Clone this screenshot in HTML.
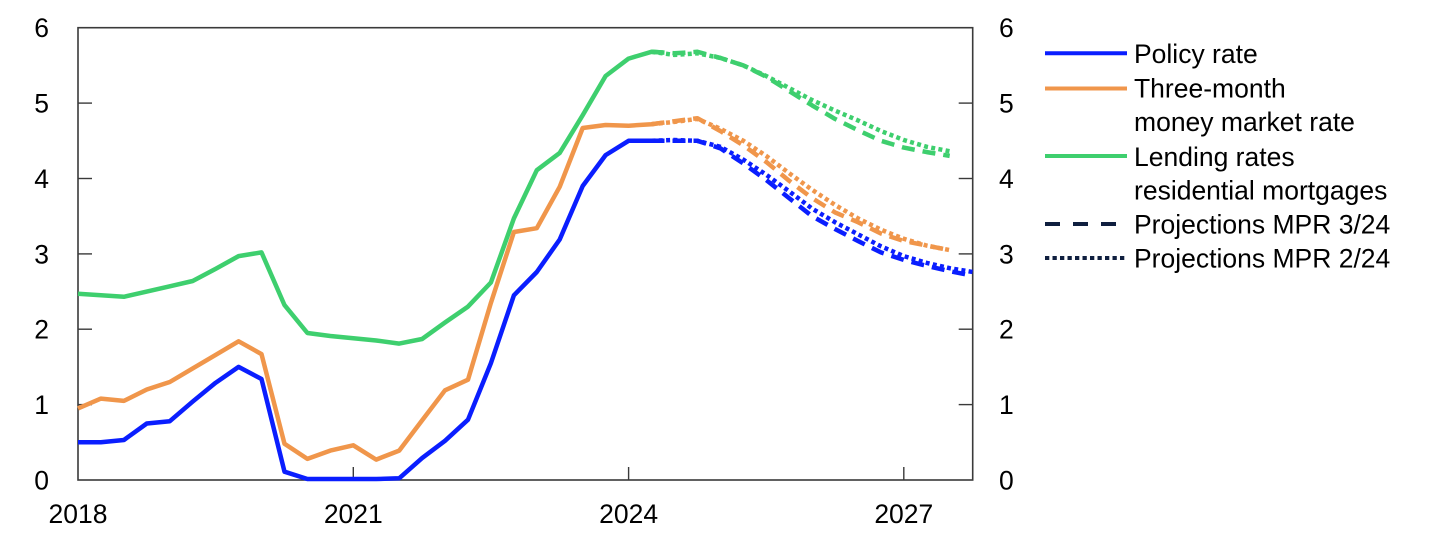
<!DOCTYPE html>
<html>
<head>
<meta charset="utf-8">
<style>
  html,body{margin:0;padding:0;background:#fff;}
  body{width:1445px;height:543px;overflow:hidden;}
  svg{display:block;font-family:"Liberation Sans",Arial,sans-serif;}
  text{font-size:26.5px;fill:#000;}
</style>
</head>
<body>
<svg width="1445" height="543" viewBox="0 0 1445 543" xmlns="http://www.w3.org/2000/svg">
  <!-- axis frame -->
  <rect x="78" y="27.7" width="894.7" height="452.3" fill="none" stroke="#3a3a3a" stroke-width="1.6"/>
  <!-- y ticks left/right -->
  <g stroke="#3a3a3a" stroke-width="1.4">
    <line x1="78" y1="103.1" x2="92" y2="103.1"/>
    <line x1="78" y1="178.5" x2="92" y2="178.5"/>
    <line x1="78" y1="253.9" x2="92" y2="253.9"/>
    <line x1="78" y1="329.2" x2="92" y2="329.2"/>
    <line x1="78" y1="404.6" x2="92" y2="404.6"/>
    <line x1="958.7" y1="103.1" x2="972.7" y2="103.1"/>
    <line x1="958.7" y1="178.5" x2="972.7" y2="178.5"/>
    <line x1="958.7" y1="253.9" x2="972.7" y2="253.9"/>
    <line x1="958.7" y1="329.2" x2="972.7" y2="329.2"/>
    <line x1="958.7" y1="404.6" x2="972.7" y2="404.6"/>
    <line x1="353.3" y1="480" x2="353.3" y2="467"/>
    <line x1="628.6" y1="480" x2="628.6" y2="467"/>
    <line x1="903.8" y1="480" x2="903.8" y2="467"/>
  </g>
  <!-- left labels -->
  <g text-anchor="end">
    <text x="49" y="37.2">6</text>
    <text x="49" y="112.6">5</text>
    <text x="49" y="188">4</text>
    <text x="49" y="263.4">3</text>
    <text x="49" y="338.7">2</text>
    <text x="49" y="414.1">1</text>
    <text x="49" y="489.5">0</text>
  </g>
  <!-- right labels -->
  <g text-anchor="start">
    <text x="999" y="37.2">6</text>
    <text x="999" y="112.6">5</text>
    <text x="999" y="188">4</text>
    <text x="999" y="263.4">3</text>
    <text x="999" y="338.7">2</text>
    <text x="999" y="414.1">1</text>
    <text x="999" y="489.5">0</text>
  </g>
  <!-- x labels -->
  <g text-anchor="middle">
    <text x="78" y="523">2018</text>
    <text x="353.3" y="523">2021</text>
    <text x="628.6" y="523">2024</text>
    <text x="903.8" y="523">2027</text>
  </g>

  <g fill="none" stroke-width="4.5" stroke-linejoin="round">
    <!-- Green history -->
    <polyline stroke="#3ecf6e" points="78,293.8 100.9,295.3 123.9,296.8 146.8,291.6 169.8,286.3 192.7,281 215.6,268.9 238.6,256.1 261.5,252.4 284.5,305.1 307.4,333 330.3,336 353.3,338.3 376.2,340.5 399.2,343.6 422.1,339 445,322.5 468,306.6 490.9,282.5 513.9,218.4 536.8,170.2 559.7,152.9 582.7,115.2 605.6,76 628.6,58.6 651.5,51.8 663,52.5"/>
    <!-- Orange history -->
    <polyline stroke="#f0964b" points="78,408.4 100.9,398.6 123.9,400.9 146.8,389.5 169.8,382 192.7,368.4 215.6,354.9 238.6,341.3 261.5,354.1 284.5,443.8 307.4,458.9 330.3,450.6 353.3,445.3 376.2,459.6 399.2,450.6 422.1,420.4 445,390.3 468,379.7 490.9,302.9 513.9,232 536.8,228.2 559.7,186.8 582.7,128 605.6,125 628.6,125.7 651.5,124.2 663,122.7"/>
    <!-- Blue history -->
    <polyline stroke="#0a1eff" points="78,442.3 100.9,442.3 123.9,440 146.8,423.5 169.8,421.2 192.7,401.6 215.6,382.8 238.6,366.9 261.5,379 284.5,471.7 307.4,479 330.3,479 353.3,479 376.2,479 399.2,478.3 422.1,458.1 445,440.8 468,419.7 490.9,363.2 513.9,295.3 536.8,272 559.7,239.5 582.7,186 605.6,155.1 628.6,140.8 651.5,140.8 663,140.8"/>

    <!-- Projections MPR 3/24 dashed -->
    <g stroke-dasharray="13,8">
      <polyline stroke="#3ecf6e" points="651.5,51.8 674.4,53.3 697.4,51.8 720.3,57.9 743.3,65.4 766.2,76.7 789.1,91 812.1,105.4 835,118.9 858,130.2 880.9,140.8 903.8,147.6 926.8,152.1 949.7,155.9"/>
      <polyline stroke="#f0964b" points="651.5,124.2 674.4,121.2 697.4,118.2 720.3,131 743.3,145.3 766.2,161.9 789.1,180.7 812.1,198.1 835,212.4 858,222.2 880.9,233.5 903.8,241 926.8,245.6 949.7,250.1"/>
      <polyline stroke="#0a1eff" points="651.5,140.8 674.4,140.8 697.4,140.8 720.3,148.3 743.3,163.4 766.2,180 789.1,198.1 812.1,216.2 835,229 858,241 880.9,252.4 903.8,259.9 926.8,265.9 949.7,271.2 972.7,275.7"/>
    </g>
    <!-- Projections MPR 2/24 dotted -->
    <g stroke-dasharray="4,3.3">
      <polyline stroke="#3ecf6e" points="651.5,51.8 674.4,54.9 697.4,53.3 720.3,57.9 743.3,65.4 766.2,76 789.1,88 812.1,100.1 835,110.6 858,120.4 880.9,131 903.8,140 926.8,146.8 949.7,151.3"/>
      <polyline stroke="#f0964b" points="651.5,124.2 674.4,121.9 697.4,118.9 720.3,128.7 743.3,140.8 766.2,155.9 789.1,173.2 812.1,189.8 835,204.9 858,218.4 880.9,229.7 903.8,238.8 926.8,245.6 949.7,250.1"/>
      <polyline stroke="#0a1eff" points="651.5,140.8 674.4,140 697.4,140.8 720.3,146.8 743.3,159.6 766.2,174.7 789.1,191.3 812.1,208.6 835,222.2 858,234.3 880.9,246.3 903.8,256.1 926.8,262.9 949.7,268.2 972.7,272"/>
    </g>
  </g>

  <!-- Legend -->
  <g stroke-width="4" fill="none">
    <line x1="1045" y1="53.3" x2="1127" y2="53.3" stroke="#0a1eff"/>
    <line x1="1045" y1="88.5" x2="1127" y2="88.5" stroke="#f0964b"/>
    <line x1="1045" y1="156" x2="1127" y2="156" stroke="#3ecf6e"/>
    <line x1="1045" y1="224" x2="1117" y2="224" stroke="#0f1f3f" stroke-dasharray="15,13"/>
    <line x1="1045" y1="258" x2="1127" y2="258" stroke="#0f1f3f" stroke-dasharray="4.3,3.2"/>
  </g>
  <g text-anchor="start">
    <text x="1134" y="62.8">Policy rate</text>
    <text x="1134" y="97.5">Three-month</text>
    <text x="1134" y="131.2">money market rate</text>
    <text x="1134" y="166">Lending rates</text>
    <text x="1134" y="199.5">residential mortgages</text>
    <text x="1134" y="233.5">Projections MPR 3/24</text>
    <text x="1134" y="267.5">Projections MPR 2/24</text>
  </g>
</svg>
</body>
</html>
